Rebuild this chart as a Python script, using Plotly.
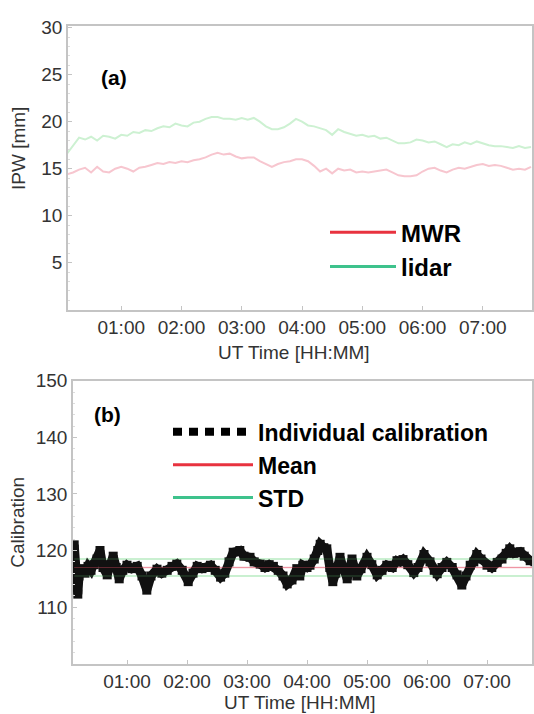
import pandas as pd
import plotly.graph_objects as go

# ---------------- data ----------------
# Panel (a): integrated precipitable water, 6-minute grid starting 00:06 UT
ipw_start = "2000-01-01 00:06"
ipw_step_min = 6
mwr_ipw = [14.4, 14.6, 14.9, 15.1, 14.6, 15.2, 14.7, 14.6, 15.0, 15.2,
           15.0, 14.7, 15.1, 15.2, 15.4, 15.6, 15.5, 15.7, 15.6, 15.8,
           15.7, 15.9, 16.0, 16.2, 16.5, 16.7, 16.5, 16.6, 16.3, 16.1,
           16.2, 16.2, 15.8, 15.5, 15.2, 15.5, 15.7, 15.8, 16.0, 16.0,
           15.8, 15.3, 14.7, 15.0, 14.5, 15.0, 14.8, 14.9, 14.6, 14.7,
           14.6, 14.7, 14.8, 14.9, 14.6, 14.3, 14.2, 14.2, 14.3, 14.7,
           15.0, 15.1, 14.8, 14.6, 14.9, 15.1, 15.0, 15.2, 15.4, 15.5,
           15.3, 15.4, 15.3, 15.1, 14.9, 15.0, 14.9, 15.2]
lidar_ipw = [16.6, 17.5, 18.3, 18.1, 18.4, 18.0, 18.5, 18.4, 18.2, 18.6,
             18.5, 18.9, 18.8, 19.1, 19.0, 19.3, 19.5, 19.4, 19.8, 19.6,
             19.5, 19.9, 20.0, 20.3, 20.5, 20.5, 20.3, 20.3, 20.2, 20.4,
             20.2, 20.4, 20.0, 19.5, 19.2, 19.2, 19.4, 19.8, 20.3, 20.0,
             19.6, 19.5, 19.3, 19.1, 18.6, 19.2, 18.9, 18.7, 18.5, 18.6,
             18.4, 18.5, 18.2, 18.3, 18.0, 17.7, 17.7, 17.8, 18.1, 18.0,
             17.8, 17.9, 17.6, 17.3, 17.6, 17.5, 17.8, 17.6, 17.9, 17.7,
             17.5, 17.4, 17.4, 17.3, 17.2, 17.4, 17.2, 17.3]

# Panel (b): individual calibration constants (time in hours UT, value)
calib_hours = [0.12, 0.14, 0.16, 0.18, 0.20, 0.25, 0.30, 0.35, 0.40, 0.45,
               0.50, 0.55, 0.60, 0.67, 0.72, 0.77, 0.82, 0.87, 0.93, 1.00,
               1.08, 1.17, 1.25, 1.33, 1.40, 1.50, 1.58, 1.67, 1.75, 1.83,
               1.92, 2.02, 2.10, 2.17, 2.25, 2.32, 2.39, 2.47, 2.56, 2.63,
               2.70, 2.77, 2.88, 2.95, 3.05, 3.12, 3.22, 3.30, 3.37, 3.44,
               3.52, 3.60, 3.67, 3.75, 3.83, 3.88, 3.93, 4.00, 4.05, 4.12,
               4.18, 4.22, 4.28, 4.33, 4.38, 4.43, 4.48, 4.55, 4.60, 4.67,
               4.75, 4.80, 4.83, 4.90, 5.00, 5.08, 5.17, 5.25, 5.33, 5.42,
               5.50, 5.55, 5.60, 5.68, 5.78, 5.85, 5.95, 6.05, 6.12, 6.17,
               6.25, 6.33, 6.42, 6.50, 6.58, 6.65, 6.72, 6.78, 6.83, 6.90,
               7.00, 7.08, 7.17, 7.25, 7.32, 7.38, 7.45, 7.55, 7.62, 7.72,
               7.80]
calib_values = [121.0, 116.0, 113.5, 112.3, 115.5, 116.8, 116.0, 117.2, 116.5, 117.5,
                118.5, 120.0, 117.0, 115.7, 117.5, 119.0, 117.0, 115.0, 116.5, 117.4,
                116.8, 117.2, 115.5, 113.0, 115.5, 116.7, 116.0, 116.5, 117.2, 117.6,
                116.5, 114.5, 116.0, 117.2, 116.8, 117.0, 117.4, 116.5, 115.3, 116.0,
                118.0, 119.7, 120.0, 119.0, 118.8, 118.0, 117.6, 117.0, 117.5, 117.2,
                116.5, 115.5, 114.1, 114.8, 116.8, 115.5, 117.4, 117.0, 117.4, 118.5,
                120.0, 121.1, 120.5, 120.3, 117.0, 114.5, 116.0, 118.8, 117.0, 115.0,
                118.5, 116.5, 115.5, 116.8, 118.8, 117.5, 115.7, 116.5, 117.4, 117.0,
                118.2, 118.0, 118.4, 117.5, 116.1, 117.0, 119.3, 118.0, 116.5, 115.9,
                117.0, 117.9, 117.0, 115.7, 113.9, 115.5, 117.4, 118.0, 119.3, 118.5,
                117.4, 117.0, 117.9, 118.5, 119.5, 120.3, 119.5, 119.8, 119.0, 118.2,
                118.0]
calib_mean = 117.0
calib_std = 1.5

tick_hours = ["01:00", "02:00", "03:00", "04:00", "05:00", "06:00", "07:00"]

# ---------------- derived ----------------
day = pd.Timestamp("2000-01-01")
t_ipw = pd.date_range(ipw_start, periods=len(mwr_ipw), freq=f"{ipw_step_min}min")
t_cal = [day + pd.Timedelta(hours=h) for h in calib_hours]
t_span = [t_cal[0], t_cal[-1]]
tickvals = [day + pd.Timedelta(hours=int(s[:2])) for s in tick_hours]

W, H = 534, 714
def px_x(p):
    return p / W
def px_y(p):
    return 1 - p / H

FONT = "Arial, Liberation Sans, sans-serif"
TXT = "#333333"
AX = "#c4c4c4"
GREEN_FAINT = "#cdf1d2"
PINK_FAINT = "#f7c6cf"
RED = "#e8323f"
GREEN = "#3ec28c"

fig = go.Figure()

# panel (a)
fig.add_trace(go.Scatter(x=t_ipw, y=lidar_ipw, mode="lines", line=dict(color=GREEN_FAINT, width=2),
                         showlegend=False, xaxis="x", yaxis="y"))
fig.add_trace(go.Scatter(x=t_ipw, y=mwr_ipw, mode="lines", line=dict(color=PINK_FAINT, width=2),
                         showlegend=False, xaxis="x", yaxis="y"))
fig.add_trace(go.Scatter(x=[None], y=[None], mode="lines", name="MWR",
                         line=dict(color=RED, width=3), xaxis="x", yaxis="y", legend="legend"))
fig.add_trace(go.Scatter(x=[None], y=[None], mode="lines", name="lidar",
                         line=dict(color=GREEN, width=3), xaxis="x", yaxis="y", legend="legend"))

# panel (b)
fig.add_trace(go.Scatter(x=t_span, y=[calib_mean + calib_std] * 2, mode="lines",
                         line=dict(color=GREEN_FAINT, width=1.5), showlegend=False, xaxis="x2", yaxis="y2"))
fig.add_trace(go.Scatter(x=t_span, y=[calib_mean - calib_std] * 2, mode="lines",
                         line=dict(color=GREEN_FAINT, width=1.5), showlegend=False, xaxis="x2", yaxis="y2"))
fig.add_trace(go.Scatter(x=t_span, y=[calib_mean] * 2, mode="lines",
                         line=dict(color="#f3b5c0", width=1.5), showlegend=False, xaxis="x2", yaxis="y2"))
fig.add_trace(go.Scatter(x=t_cal, y=calib_values, mode="lines+markers",
                         line=dict(color="black", width=9),
                         marker=dict(symbol="square", size=9, color="black"),
                         opacity=0.93, showlegend=False, xaxis="x2", yaxis="y2"))
# faint mean/std shown through the black band, as in the original
fig.add_trace(go.Scatter(x=t_span, y=[calib_mean] * 2, mode="lines",
                         line=dict(color="rgba(232,90,110,0.35)", width=1), showlegend=False,
                         xaxis="x2", yaxis="y2"))
fig.add_trace(go.Scatter(x=t_span, y=[calib_mean + calib_std] * 2, mode="lines",
                         line=dict(color="rgba(120,220,140,0.3)", width=1), showlegend=False,
                         xaxis="x2", yaxis="y2"))
fig.add_trace(go.Scatter(x=t_span, y=[calib_mean - calib_std] * 2, mode="lines",
                         line=dict(color="rgba(120,220,140,0.3)", width=1), showlegend=False,
                         xaxis="x2", yaxis="y2"))
fig.add_trace(go.Scatter(x=[None], y=[None], mode="lines", name="Individual calibration",
                         line=dict(color="black", width=8, dash="9px,7px"), xaxis="x2", yaxis="y2",
                         legend="legend2"))
fig.add_trace(go.Scatter(x=[None], y=[None], mode="lines", name="Mean",
                         line=dict(color=RED, width=3), xaxis="x2", yaxis="y2", legend="legend2"))
fig.add_trace(go.Scatter(x=[None], y=[None], mode="lines", name="STD",
                         line=dict(color=GREEN, width=3), xaxis="x2", yaxis="y2", legend="legend2"))

xcommon = dict(type="date", tickvals=tickvals, tickformat="%H:%M", showgrid=False,
               showline=True, linecolor=AX, linewidth=1.5, mirror=True,
               ticks="inside", ticklen=4, tickcolor=AX, zeroline=False,
               tickfont=dict(family=FONT, size=19, color=TXT))
ycommon = dict(showgrid=False, showline=True, linecolor=AX, linewidth=1.5, mirror=True,
               ticks="inside", ticklen=4, tickcolor=AX, zeroline=False,
               tickfont=dict(family=FONT, size=19, color=TXT))
minor_tick = dict(ticks="inside", ticklen=2, tickcolor="#dddddd")

def ann(text, x, y, size, bold=False, angle=0, color=TXT):
    return dict(text=text, x=px_x(x), y=px_y(y), xref="paper", yref="paper", showarrow=False,
                xanchor="center", yanchor="middle", textangle=angle,
                font=dict(family=FONT, size=size, color=color, weight="bold" if bold else "normal"))

fig.update_layout(
    width=W, height=H,
    margin=dict(l=0, r=0, t=0, b=0),
    paper_bgcolor="white", plot_bgcolor="white",
    xaxis=dict(xcommon, domain=[px_x(68), px_x(532)], anchor="y",
               range=[day + pd.Timedelta(minutes=7), day + pd.Timedelta(minutes=469)]),
    yaxis=dict(ycommon, domain=[px_y(304), px_y(16)], anchor="x", range=[0, 30.2],
               tickvals=[5, 10, 15, 20, 25, 30], minor=dict(minor_tick, dtick=1)),
    xaxis2=dict(xcommon, domain=[px_x(73), px_x(532)], anchor="y2",
                range=[day + pd.Timedelta(minutes=6), day + pd.Timedelta(minutes=465)]),
    yaxis2=dict(ycommon, domain=[px_y(663), px_y(376)], anchor="x2", range=[100, 150],
                tickvals=[110, 120, 130, 140, 150], minor=dict(minor_tick, dtick=2)),
    legend=dict(x=px_x(325), y=px_y(203), xanchor="left", yanchor="top",
                bgcolor="rgba(0,0,0,0)", itemwidth=66, tracegroupgap=0,
                font=dict(family=FONT, size=24, color="black", weight="bold")),
    legend2=dict(x=px_x(168), y=px_y(406), xanchor="left", yanchor="top",
                 bgcolor="rgba(0,0,0,0)", itemwidth=80, tracegroupgap=0,
                 font=dict(family=FONT, size=23, color="black", weight="bold")),
    annotations=[
        ann("(a)", 114, 68, 21, bold=True, color="black"),
        ann("(b)", 107, 410, 21, bold=True, color="black"),
        ann("IPW [mm]", 18, 141, 19, angle=-90),
        ann("Calibration", 18, 520, 19, angle=-90),
        ann("UT Time [HH:MM]", 294, 347, 19),
        ann("UT Time [HH:MM]", 300, 702, 19),
    ],
)

fig.write_html("out.html")
